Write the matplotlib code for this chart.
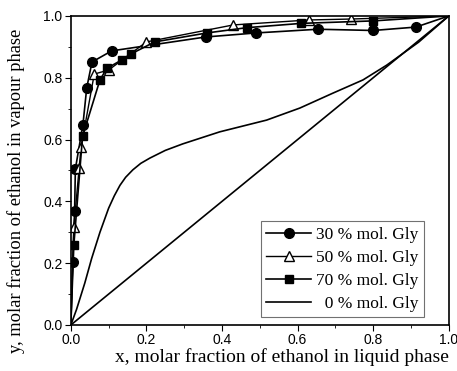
import matplotlib
matplotlib.use("Agg")
import matplotlib.pyplot as plt
from matplotlib.ticker import MultipleLocator

# 30 % mol. glycerol
x30 = [0.0, 0.005, 0.010, 0.012, 0.032, 0.042, 0.056, 0.108, 0.357, 0.49, 0.654, 0.80, 0.913, 1.0]
y30 = [0.0, 0.204, 0.370, 0.505, 0.648, 0.767, 0.851, 0.887, 0.932, 0.945, 0.957, 0.953, 0.964, 1.0]
# 50 % mol. glycerol
x50 = [0.0, 0.008, 0.022, 0.027, 0.062, 0.100, 0.200, 0.430, 0.630, 0.740, 1.0]
y50 = [0.0, 0.317, 0.508, 0.575, 0.812, 0.825, 0.916, 0.971, 0.987, 0.990, 1.0]
# 70 % mol. glycerol
x70 = [0.0, 0.008, 0.031, 0.077, 0.095, 0.135, 0.159, 0.222, 0.360, 0.465, 0.610, 0.800, 1.0]
y70 = [0.0, 0.260, 0.610, 0.793, 0.830, 0.858, 0.877, 0.916, 0.945, 0.962, 0.976, 0.984, 1.0]
# 0 % mol. glycerol (binary ethanol-water)
x0 = [0.0, 0.015, 0.037, 0.055, 0.077, 0.100, 0.115, 0.130, 0.145, 0.164, 0.185, 0.209,
      0.250, 0.296, 0.394, 0.518, 0.606, 0.693, 0.773, 0.836, 0.920, 1.0]
y0 = [0.0, 0.050, 0.136, 0.215, 0.300, 0.378, 0.418, 0.452, 0.478, 0.502, 0.523, 0.540,
      0.565, 0.586, 0.625, 0.663, 0.702, 0.750, 0.793, 0.841, 0.915, 1.0]

n = len(x30) - 1
m50 = len(x50) - 1
m70 = len(x70) - 1

plt.rcParams['font.family'] = ['Liberation Serif', 'DejaVu Serif']

fig = plt.figure(figsize=(4.57, 3.71), dpi=100)
ax = fig.add_axes([0.155, 0.124, 0.827, 0.833])

ax.plot(x30, y30, color='black', lw=1.2, marker='o', ms=7, markevery=list(range(1, n)),
        label='30 % mol. Gly')
ax.plot(x50, y50, color='black', lw=1.0, marker='^', ms=7.5, mfc='white', mec='black',
        markevery=list(range(1, m50)), label='50 % mol. Gly')
ax.plot(x70, y70, color='black', lw=1.2, marker='s', ms=6, markevery=list(range(1, m70)),
        label='70 % mol. Gly')
ax.plot(x0, y0, color='black', lw=1.2, label='  0 % mol. Gly')
ax.plot([0, 1], [0, 1], color='black', lw=1.2)

ax.set_xlim(0, 1)
ax.set_ylim(0, 1)
ax.xaxis.set_major_locator(MultipleLocator(0.2))
ax.xaxis.set_minor_locator(MultipleLocator(0.1))
ax.yaxis.set_major_locator(MultipleLocator(0.2))
ax.yaxis.set_minor_locator(MultipleLocator(0.1))
ax.tick_params(which='both', direction='out', top=False, right=False, pad=2)
ax.tick_params(which='major', length=4)
ax.tick_params(which='minor', length=2)
for lab in ax.get_xticklabels() + ax.get_yticklabels():
    lab.set_family('Liberation Sans')
    lab.set_fontsize(10)
for s in ax.spines.values():
    s.set_linewidth(1.2)

ax.set_xlabel('x, molar fraction of ethanol in liquid phase', fontsize=14)
ax.set_ylabel('y, molar fraction of ethanol in vapour phase', fontsize=13.3)
ax.xaxis.set_label_coords(0.558, -0.075)
ax.yaxis.set_label_coords(-0.12, 0.435)

leg = ax.legend(loc='lower right', bbox_to_anchor=(0.935, 0.025), fontsize=12.5,
                handlelength=2.6, frameon=True, fancybox=False, borderpad=0.3,
                labelspacing=0.4, handletextpad=0.3, borderaxespad=0)
leg.get_frame().set_edgecolor('0.3')
leg.get_frame().set_linewidth(0.8)

fig.savefig('out.png', dpi=100)
